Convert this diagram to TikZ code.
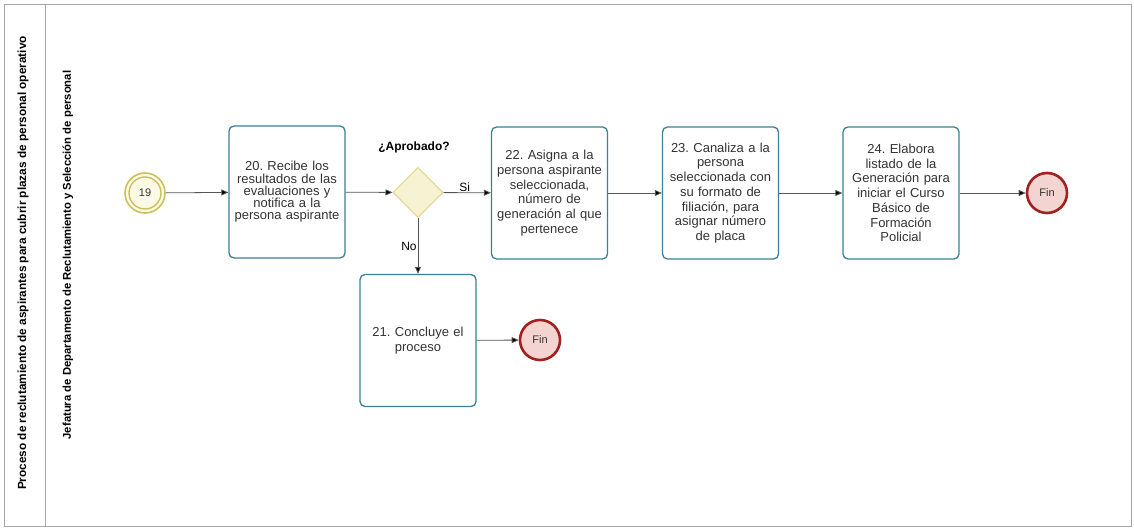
\documentclass[tikz,border=0pt]{standalone}
\usepackage{fontspec}
\setmainfont{Liberation Sans}
\usetikzlibrary{arrows.meta,shapes.geometric}
\definecolor{taskb}{HTML}{3A8096}
\definecolor{txt}{HTML}{333333}
\definecolor{lin}{HTML}{555555}
\definecolor{poolb}{HTML}{A8A8A8}
\definecolor{startb}{HTML}{C8C25A}
\definecolor{startf}{HTML}{FCFAE6}
\definecolor{gwb}{HTML}{E0DA9C}
\definecolor{gwf}{HTML}{F7F3D2}
\definecolor{endb}{HTML}{A22020}
\definecolor{endf}{HTML}{F4D4D0}
\frenchspacing
\begin{document}
\begin{tikzpicture}[x=1pt,y=-1pt,
  task/.style={draw=taskb, line width=1.3pt, rounded corners=5pt, fill=white,
    minimum width=116pt, minimum height=132pt, text width=116pt, align=center,
    inner sep=0pt, text=txt, font=\fontsize{13}{14.7}\selectfont},
  flow/.style={draw=lin, line width=0.8pt, -{Triangle[length=7pt,width=6pt,fill=black]}},
  endev/.style={circle, draw=endb, line width=2.6pt, fill=endf, minimum size=40pt,
    inner sep=0pt, text=txt, font=\fontsize{11}{13}\selectfont},
  lanetxt/.style={rotate=90, font=\bfseries\fontsize{11.8}{13}\selectfont, text=black},
  lbl/.style={text=black, font=\fontsize{12}{14}\selectfont, inner sep=1pt}]
\useasboundingbox (0,0) rectangle (1134,529);
% pool and lane
\draw[poolb, line width=0.8pt] (4,4) rectangle (1131,526);
\draw[poolb, line width=0.8pt] (45,4) -- (45,526);
\node[lanetxt] (pooltitle) at (23,263) {Proceso de reclutamiento de aspirantes para cubrir plazas de personal operativo};
\node[lanetxt, font=\bfseries\fontsize{11.3}{13}\selectfont] (lanetitle) at (68,255) {Jefatura de Departamento de Reclutamiento y Selección de personal};
% start event
\node[circle, draw=startb, line width=1.6pt, fill=startf, minimum size=40pt, inner sep=0pt] (s19) at (145,193) {};
\node[circle, draw=startb, line width=1.4pt, minimum size=32pt, inner sep=0pt,
  text=txt, font=\fontsize{11}{13}\selectfont] (s19in) at (145,193) {19};
% tasks
\node[task, font=\fontsize{13}{12.2}\selectfont] (t20) at (287,192) {20. Recibe los\\resultados de las\\evaluaciones y\\notifica a la\\persona aspirante\\[6pt]};
\node[task] (t22) at (549.5,193) {22. Asigna a la\\persona aspirante\\seleccionada,\\número de\\generación al que\\pertenece};
\node[task] (t23) at (720.5,193) {23. Canaliza a la\\persona\\seleccionada con\\su formato de\\filiación, para\\asignar número\\de placa};
\node[task] (t24) at (901,193) {24. Elabora\\listado de la\\Generación para\\iniciar el Curso\\Básico de\\Formación\\Policial};
\node[task] (t21) at (418,340.5) {21. Concluye el\\proceso};
% gateway
\node[diamond, draw=gwb, line width=1.2pt, fill=gwf, minimum width=50pt, minimum height=50pt, inner sep=0pt] (gw) at (418,192.5) {};
\node[lbl, font=\bfseries\fontsize{12}{14}\selectfont] (gwlbl) at (414,147) {¿Aprobado?};
% end events
\node[endev] (fin1) at (1047,193) {Fin};
\node[endev] (fin2) at (540,340) {Fin};
% flows
\draw[flow] (s19) -- (t20);
\draw[flow] (t20) -- (gw);
\draw[flow] (gw) -- node[lbl, above, pos=0.45] (si) {Si} (t22);
\draw[flow] (gw) -- node[lbl, left, pos=0.5] (no) {No} (t21);
\draw[flow] (t22) -- (t23);
\draw[flow] (t23) -- (t24);
\draw[flow] (t24) -- (fin1);
\draw[flow] (t21) -- (fin2);
\end{tikzpicture}
\end{document}
